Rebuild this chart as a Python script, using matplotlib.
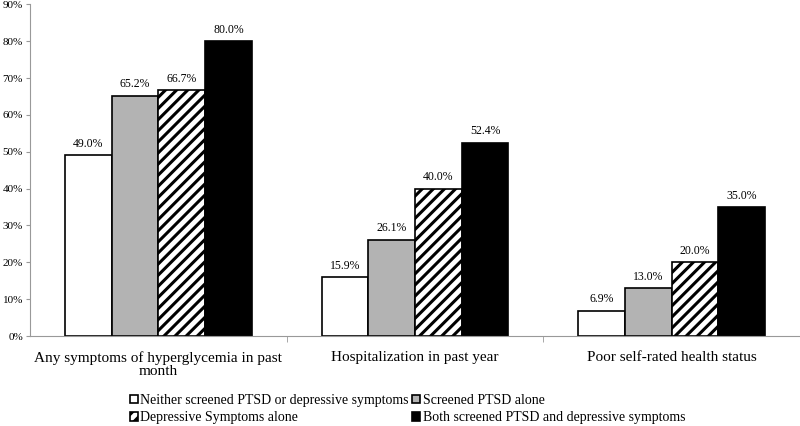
import matplotlib
matplotlib.use("Agg")
import matplotlib.pyplot as plt
import numpy as np
from matplotlib.ticker import PercentFormatter

categories = ["Any symptoms of hyperglycemia in past\nmonth", "Hospitalization in past year", "Poor self-rated health status"]
series_names = ["Neither screened PTSD or depressive symptoms", "Screened PTSD alone",
                "Depressive Symptoms alone", "Both screened PTSD and depressive symptoms"]
neither = [49.0, 15.9, 6.9]
ptsd_alone = [65.2, 26.1, 13.0]
dep_alone = [66.7, 40.0, 20.0]
both = [80.0, 52.4, 35.0]
values = [neither, ptsd_alone, dep_alone, both]
yticks = list(range(0, 91, 10))

plt.rcParams['font.family'] = ['Liberation Serif', 'DejaVu Serif']
plt.rcParams['hatch.linewidth'] = 2.2

fig = plt.figure(figsize=(8, 4.26), dpi=100)
ax = fig.add_axes([0.0375, 0.211, 0.9625, 0.779])

styles = [dict(color='white', edgecolor='black', hatch=None),
          dict(color='#b3b3b3', edgecolor='black', hatch=None),
          dict(color='white', edgecolor='black', hatch='///'),
          dict(color='black', edgecolor='black', hatch=None)]
x = np.arange(len(categories))
w = 0.182
handles = []
for i, (vals, st, name) in enumerate(zip(values, styles, series_names)):
    pos = x + (i - 1.5) * w
    bars = ax.bar(pos, vals, w, label=name, linewidth=1.2, **st)
    handles.append(bars)
    for b, v in zip(bars, vals):
        ax.text(b.get_x() + b.get_width() / 2, v + 1.5, f"{v:.1f}%", ha='center', va='bottom', fontsize=8.5)

ax.set_xlim(-0.5, len(categories) - 0.5)
ax.set_ylim(0, 90)
ax.set_yticks(yticks)
ax.yaxis.set_major_formatter(PercentFormatter(decimals=0))
ax.set_xticks(x)
ax.set_xticklabels(categories, fontsize=11, linespacing=1.0)
ax.set_xticks([0.5, 1.5], minor=True)
ax.tick_params(axis='x', which='major', length=0, pad=11)
ax.tick_params(axis='x', which='minor', length=4, color='#999999')
ax.tick_params(axis='y', labelsize=8, length=3, color='#999999', pad=2)
for s in ['top', 'right']:
    ax.spines[s].set_visible(False)
for s in ['left', 'bottom']:
    ax.spines[s].set_color('#999999')

order = [0, 2, 1, 3]
fig.legend([handles[i] for i in order], [series_names[i] for i in order],
           loc='upper left', bbox_to_anchor=(0.1625, 0.076), ncol=2, frameon=False,
           fontsize=10, handlelength=0.55, handleheight=0.55, handletextpad=0.2, columnspacing=0.25,
           labelspacing=0.35, borderpad=0, borderaxespad=0)

fig.savefig("out.png", dpi=100)
